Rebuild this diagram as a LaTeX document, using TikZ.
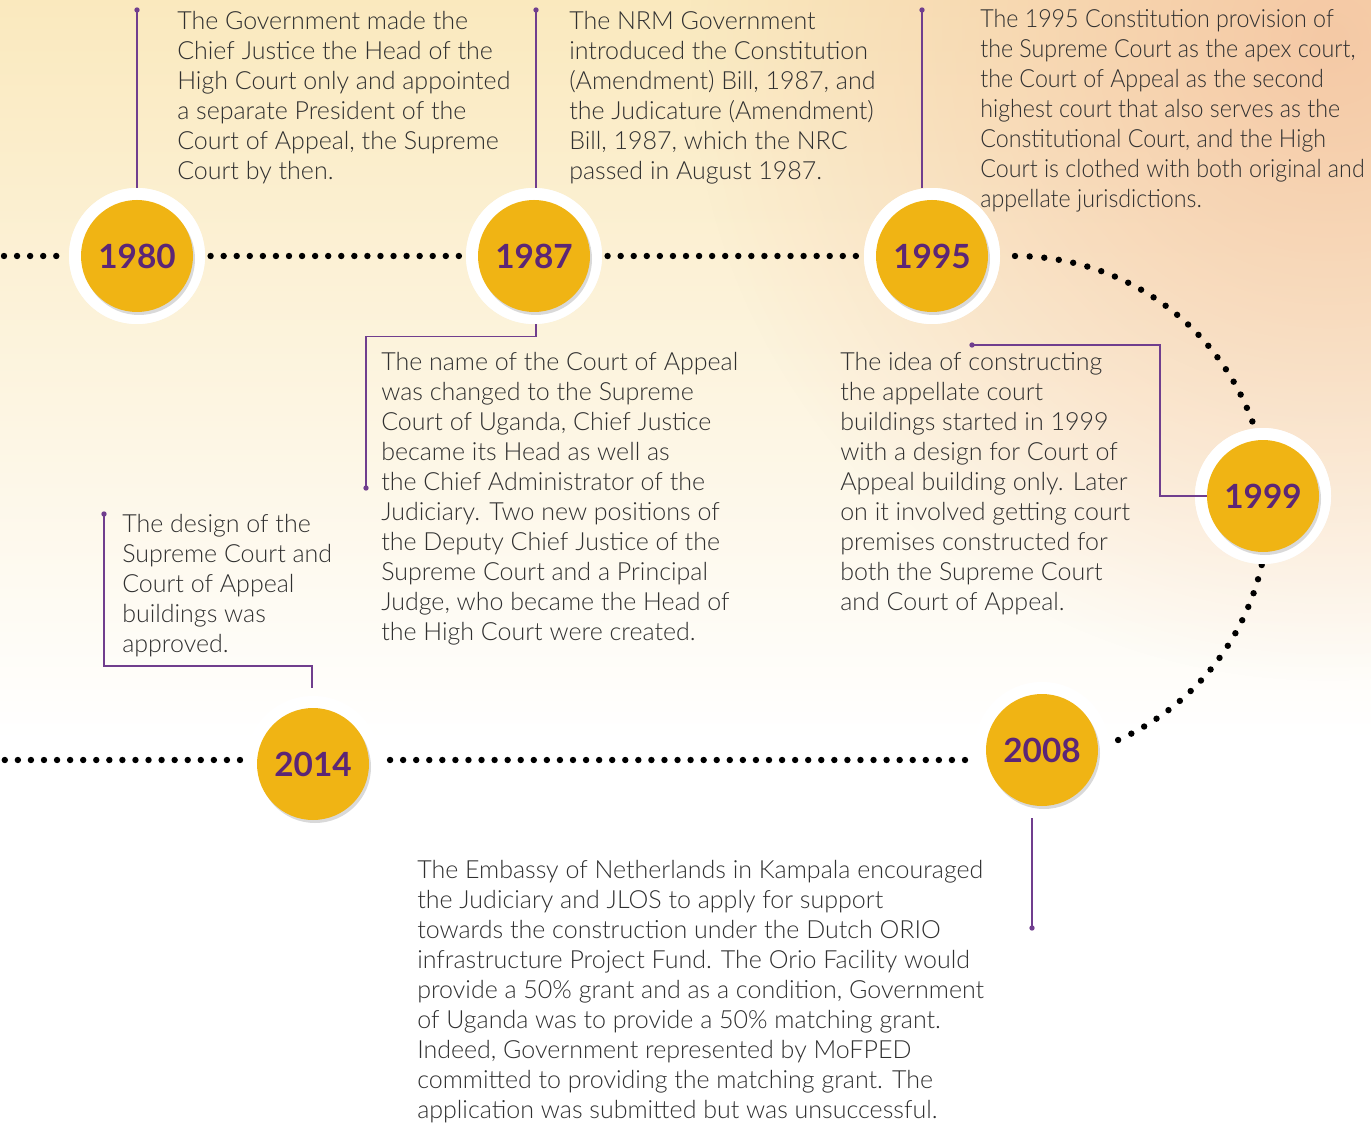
\documentclass[tikz,border=0pt]{standalone}
\usepackage{fontspec}
\IfFontExistsTF{Lato Light}{\setmainfont{Lato Light}}{\setmainfont{Lato}}
\newfontfamily\yearfont{Lato}
\usetikzlibrary{fadings}
\definecolor{yel}{RGB}{240,180,20}
\definecolor{purp}{RGB}{92,38,118}
\definecolor{conncol}{RGB}{112,62,142}
\definecolor{txt}{RGB}{48,48,48}
\definecolor{cream}{RGB}{250,233,190}
\definecolor{peach}{RGB}{243,190,156}
\tikzfading[name=glowfade, inner color=transparent!25, outer color=transparent!100]
\begin{document}
\begin{tikzpicture}[x=0.75pt,y=-0.75pt,
 ring/.style={circle, fill=white, minimum size=102pt, inner sep=0},
 yearc/.style={circle, fill=yel, minimum size=84pt, inner sep=0, font=\yearfont\bfseries\fontsize{25}{25}\selectfont, text=purp},
 shad/.style={circle, fill=black, opacity=0.15, minimum size=84pt, inner sep=0},
 dots/.style={draw=black, line width=4.8pt, line cap=round, dash pattern=on 0pt off 9.8pt},
 cdots/.style={dots, dash pattern=on 0pt off 11pt},
 conn/.style={draw=conncol, line width=1.1pt},
 cdot/.style={circle, fill=conncol, inner sep=0, minimum size=4pt},
 body/.style={anchor=north west, inner sep=0, align=left, text=txt, font=\fontsize{18.75}{22.5}\selectfont},
]
\useasboundingbox (0,0) rectangle (1371,1123);
% background
\fill[white] (0,0) rectangle (1371,1123);
\shade[top color=cream, bottom color=white] (0,0) rectangle (1371,740);
\begin{scope}
\clip (0,0) rectangle (1371,1123);
\fill[peach, path fading=glowfade] (1330,40) circle (640);
\end{scope}

% rings (reference for dotted lines)
\node[ring] (r1980) at (137,256) {};
\node[ring] (r1987) at (534,256) {};
\node[ring] (r1995) at (932,256) {};
\node[ring] (r1999) at (1263,496) {};
\node[ring] (r2008) at (1042,750) {};
\node[ring] (r2014) at (313,764) {};

% dotted timeline
\draw[dots] (4,256) -- ([xshift=-4pt]r1980.west);
\draw[dots] ([xshift=4pt]r1980.east) -- ([xshift=-4pt]r1987.west);
\draw[dots] ([xshift=4pt]r1987.east) -- ([xshift=-4pt]r1995.west);
\draw[cdots] (1015,509) ++(-90:253) arc[start angle=-90, end angle=-18.5, radius=253];
\draw[cdots] (1015,509) ++(12.8:253) arc[start angle=12.8, end angle=67.5, radius=253];
\draw[dots] (965,760) -- (386,760);
\draw[dots] (240,760) -- (0,760);

% rings over line ends, shadows and year discs
\foreach \n/\x/\y in {1980/137/256,1987/534/256,1995/932/256,1999/1263/496,2008/1042/750,2014/313/764}{
  \node[ring] (q\n) at (\x,\y) {};
  \node[shad] (s\n) at (\x+2,\y+3) {};
}
\node[yearc] (y1980) at (137,256) {1980};
\node[yearc] (y1987) at (534,256) {1987};
\node[yearc] (y1995) at (932,256) {1995};
\node[yearc] (y1999) at (1263,496) {1999};
\node[yearc] (y2008) at (1042,750) {2008};
\node[yearc] (y2014) at (313,764) {2014};

% connectors
\node[cdot] (d1980) at (137,10) {};
\node[cdot] (d1987) at (536,10) {};
\node[cdot] (d1995) at (922,10) {};
\node[cdot] (d1987b) at (366,488) {};
\node[cdot] (d1999) at (972,345) {};
\node[cdot] (d2014) at (104,514) {};
\node[cdot] (d2008) at (1032,928) {};
\coordinate (e2014) at (312,688);
\draw[conn] (d1980.center) -- (r1980.north);
\draw[conn] (d1987.center) -- (d1987 |- r1987.north);
\draw[conn] (d1995.center) -- (d1995 |- r1995.north);
\draw[conn] (d1987 |- r1987.south) -- ++(0,12) -| (d1987b.center);
\draw[conn] (d1999.center) -- ++(188,0) |- (y1999.west);
\draw[conn] (d2014.center) -- ++(0,152) -| (e2014);
\draw[conn] (d2008.center) -- (d2008 |- r2008.south);

% texts
\node[body] (t1980) at (177,11) {The Government made the\\Chief Justice the Head of the\\High Court only and appointed\\a separate President of the\\Court of Appeal, the Supreme\\Court by then.};
\node[body] (t1987a) at (569,11) {The NRM Government\\introduced the Constitution\\(Amendment) Bill, 1987, and\\the Judicature (Amendment)\\Bill, 1987, which the NRC\\passed in August 1987.};
\node[body, font=\fontsize{18.75}{22.5}\selectfont\addfontfeature{FakeStretch=0.93}] (t1995) at (980,9) {The 1995 Constitution provision of\\the Supreme Court as the apex court,\\the Court of Appeal as the second\\highest court that also serves as the\\Constitutional Court, and the High\\Court is clothed with both original and\\appellate jurisdictions.};
\node[body] (t1987b) at (381,352) {The name of the Court of Appeal\\was changed to the Supreme\\Court of Uganda, Chief Justice\\became its Head as well as\\the Chief Administrator of the\\Judiciary. Two new positions of\\the Deputy Chief Justice of the\\Supreme Court and a Principal\\Judge, who became the Head of\\the High Court were created.};
\node[body] (t1999) at (840,352) {The idea of constructing\\the appellate court\\buildings started in 1999\\with a design for Court of\\Appeal building only. Later\\on it involved getting court\\premises constructed for\\both the Supreme Court\\and Court of Appeal.};
\node[body] (t2014) at (122,514) {The design of the\\Supreme Court and\\Court of Appeal\\buildings was\\approved.};
\node[body] (t2008) at (417,860) {The Embassy of Netherlands in Kampala encouraged\\the Judiciary and JLOS to apply for support\\towards the construction under the Dutch ORIO\\infrastructure Project Fund. The Orio Facility would\\provide a 50\% grant and as a condition, Government\\of Uganda was to provide a 50\% matching grant.\\Indeed, Government represented by MoFPED\\committed to providing the matching grant. The\\application was submitted but was unsuccessful.};
\end{tikzpicture}
\end{document}
